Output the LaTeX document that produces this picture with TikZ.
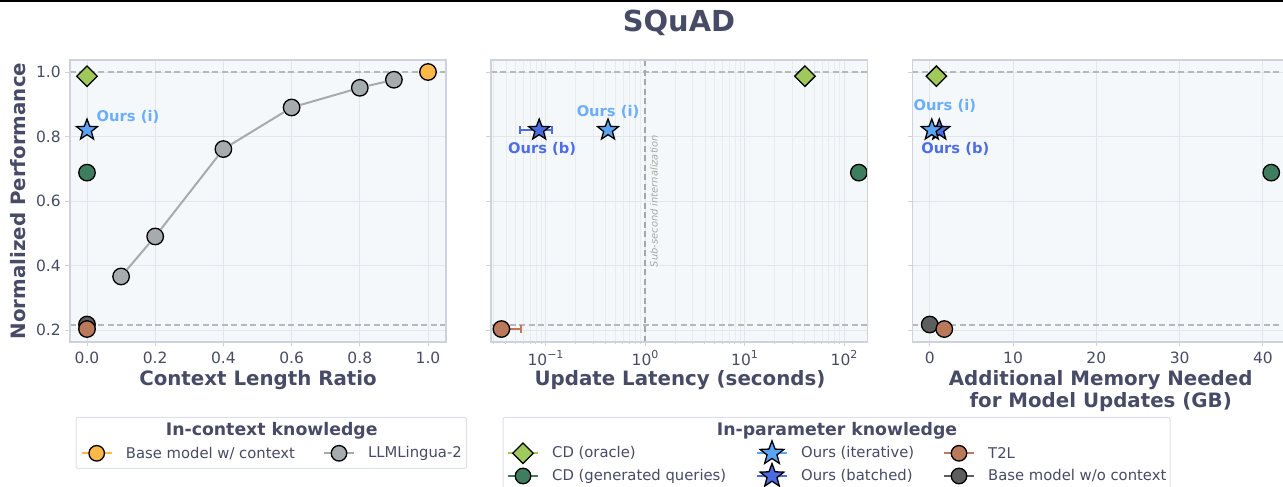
\documentclass[tikz,border=0pt]{standalone}
\usepackage{fontspec}
\setmainfont{DejaVu Sans}
\usetikzlibrary{shapes.geometric,arrows.meta}

\definecolor{txtcol}{HTML}{474B66}
\definecolor{panelbg}{HTML}{F5F8FA}
\definecolor{gridcol}{HTML}{E2E5EA}
\definecolor{framecol}{HTML}{CDD2DC}
\definecolor{legcol}{HTML}{DDE0E6}
\definecolor{refcol}{HTML}{B8B8B8}
\definecolor{subcol}{HTML}{A6A6A6}
\definecolor{oraclecol}{HTML}{9FCA5B}
\definecolor{gencol}{HTML}{3E7D5D}
\definecolor{itercol}{HTML}{5AA4F5}
\definecolor{batchcol}{HTML}{4B6BE0}
\definecolor{iterlbl}{HTML}{6AAEFC}
\definecolor{batchlbl}{HTML}{4D6EE6}
\definecolor{ttwolcol}{HTML}{B9795A}
\definecolor{basecol}{HTML}{5E5E5E}
\definecolor{ctxcol}{HTML}{FDB849}
\definecolor{linguacol}{HTML}{A6ABAE}

\newcommand{\tenpow}[1]{10\raisebox{0.8ex}{\fontsize{11}{11}\selectfont#1}}
% legend entry: name, handle centre x, y, marker style, colour, text
\newcommand{\legentry}[6]{%
  \coordinate (#1l) at (#2-15,#3);
  \coordinate (#1r) at (#2+15,#3);
  \draw[handle, #5] (#1l) -- (#1r);
  \node[#4, fill=#5] (#1) at (#2,#3) {};
  \node[legtext] (#1txt) at (#2+29,#3) {#6};
}

\begin{document}
\begin{tikzpicture}[x=1pt,y=-1pt,
    tick/.style={font=\fontsize{15.5}{18}\selectfont, text=txtcol, inner sep=0pt},
    axlabel/.style={font=\fontsize{19.8}{21.7}\selectfont\bfseries, text=txtcol, align=center},
    gridline/.style={gridcol, line width=0.9pt},
    minorgrid/.style={gridcol!75, line width=0.7pt},
    refline/.style={refcol, line width=1.4pt, dash pattern=on 6pt off 3.5pt},
    subline/.style={subcol, line width=1.4pt, dash pattern=on 6pt off 3.5pt},
    tickmark/.style={framecol, line width=0.9pt},
    frame/.style={framecol, line width=1.1pt},
    mk/.style={draw=black, line width=1.3pt, inner sep=0pt},
    mkcirc/.style={mk, circle, minimum size=16.5pt},
    mkstar/.style={mk, star, star points=5, star point ratio=2.4, minimum size=22pt},
    mkdiam/.style={mk, diamond, minimum size=21pt},
    ourslbl/.style={font=\fontsize{14.7}{17}\selectfont\bfseries},
    legtext/.style={font=\fontsize{14.8}{17}\selectfont, text=txtcol, anchor=west, inner sep=0pt},
    legtitle/.style={font=\fontsize{17.3}{20}\selectfont\bfseries, text=txtcol},
    legbox/.style={draw=legcol, line width=1pt, fill=white, rounded corners=2pt},
    handle/.style={line width=2.2pt},
    errbar/.style={line width=1.5pt}]

\useasboundingbox (0,0) rectangle (1283,487);
\clip (0,0) rectangle (1283,487);

% top rule and title
\fill[black] (0,0) rectangle (1283,2);
\node[font=\fontsize{28.9}{32}\selectfont\bfseries, text=txtcol] (title) at (679,23) {SQuAD};

% panel 1: context length ratio
\fill[panelbg] (70,60) rectangle (446,342);
\begin{scope}[shift={(87,394.5)}, x=341pt, y=322.5pt]
  \foreach \u in {0,0.2,0.4,0.6,0.8,1} \draw[gridline] (\u,0.163) -- (\u,1.037);
  \foreach \v in {0.2,0.4,0.6,0.8,1} \draw[gridline] (-0.05,\v) -- (1.053,\v);
  \draw[refline] (-0.05,1) -- (1.053,1);
  \draw[refline] (-0.05,0.215) -- (1.053,0.215);
  \foreach \u in {0.0,0.2,0.4,0.6,0.8,1.0} {
    \draw[tickmark] (\u,0.163) -- ++(0,-4.5pt);
    \node[tick] at ([yshift=-16pt]\u,0.163) {\u};
  }
  \foreach \v in {0.2,0.4,0.6,0.8,1.0} {
    \draw[tickmark] (-0.05,\v) -- ++(-4.5pt,0);
    \node[tick, anchor=east] at ([xshift=-9pt]-0.05,\v) {\v};
  }
  % LLMLingua-2 sweep
  \foreach \r/\p [count=\i] in {0.1/0.366,0.2/0.49,0.4/0.761,0.6/0.89,0.8/0.951,0.9/0.976}
    \node[mkcirc, fill=linguacol] (ling\i) at (\r,\p) {};
  \draw[linguacol, line width=2pt] (ling1) -- (ling2) -- (ling3) -- (ling4) -- (ling5) -- (ling6);
  \node[mkcirc, fill=ctxcol] (ctxA) at (1,1) {};
  \node[mkdiam, fill=oraclecol] (oracA) at (0,0.987) {};
  \node[mkstar, fill=itercol] (iterA) at (0,0.82) {};
  \node[mkcirc, fill=gencol] (genA) at (0,0.688) {};
  \node[mkcirc, fill=basecol] (baseA) at (0,0.217) {};
  \node[mkcirc, fill=ttwolcol] (ttwolA) at (0,0.203) {};
  \node[ourslbl, text=iterlbl] (iterAlbl) at ([xshift=41pt,yshift=13pt]iterA) {Ours (i)};
\end{scope}
\draw[frame] (70,60) rectangle (446,342);
\node[axlabel] (xlabA) at (258,380) {Context Length Ratio};
\node[axlabel, rotate=90] (ylab) at (18,201) {Normalized Performance};

% panel 2: update latency, log axis
\fill[panelbg] (491,60) rectangle (867.7,342);
\begin{scope}[shift={(645,394.5)}, x=99.5pt, y=322.5pt]
  \foreach \d in {-2,-1,0,1} \foreach \m in {2,...,9} {
    \pgfmathsetmacro\lx{\d+log10(\m)}
    \ifdim\lx pt>-1.548pt \ifdim\lx pt<2.238pt
      \draw[minorgrid] (\lx,0.163) -- (\lx,1.037);
      \draw[tickmark] (\lx,0.163) -- ++(0,-2.5pt);
    \fi\fi
  }
  \foreach \d/\e in {-1/−1,0/0,1/1,2/2} {
    \draw[gridline] (\d,0.163) -- (\d,1.037);
    \draw[tickmark] (\d,0.163) -- ++(0,-4.5pt);
    \node[tick] at ([yshift=-16pt]\d,0.163) {\tenpow{\e}};
  }
  \foreach \v in {0.2,0.4,0.6,0.8,1} {
    \draw[gridline] (-1.548,\v) -- (2.238,\v);
    \draw[tickmark] (-1.548,\v) -- ++(-4.5pt,0);
  }
  \draw[refline] (-1.548,1) -- (2.238,1);
  \draw[refline] (-1.548,0.215) -- (2.238,0.215);
  % sub-second marker
  \draw[subline] (0,0.163) -- (0,1.037);
  \node[rotate=90, font=\fontsize{9.9}{12}\selectfont\itshape, text=subcol] (subsec) at ([xshift=9pt]0,0.6) {Sub-second internalization};
  % error bars
  \coordinate (errbL) at ({log10(0.0546)},0.82);
  \coordinate (errbR) at ({log10(0.118)},0.82);
  \draw[errbar, batchcol, {Bar[width=8pt]}-{Bar[width=8pt]}] (errbL) -- (errbR);
  \coordinate (ttwolBc) at ({log10(0.0355)},0.203);
  \coordinate (errtR) at ({log10(0.058)},0.203);
  \draw[errbar, ttwolcol, -{Bar[width=8pt]}] (ttwolBc) -- (errtR);
  % data
  \node[mkdiam, fill=oraclecol] (oracB) at ({log10(40.5)},0.987) {};
  \node[mkcirc, fill=gencol] (genB) at ({log10(141)},0.688) {};
  \node[mkstar, fill=itercol] (iterB) at ({log10(0.425)},0.82) {};
  \node[mkstar, fill=batchcol] (batchB) at ({log10(0.086)},0.82) {};
  \node[mkcirc, fill=ttwolcol] (ttwolB) at (ttwolBc) {};
  \node[ourslbl, text=iterlbl] (iterBlbl) at ([yshift=18pt]iterB) {Ours (i)};
  \node[ourslbl, text=batchlbl] (batchBlbl) at ([xshift=3pt,yshift=-19pt]batchB) {Ours (b)};
\end{scope}
\draw[frame] (491,60) rectangle (867.7,342);
\node[axlabel] (xlabB) at (680,380) {Update Latency (seconds)};

% panel 3: additional memory
\fill[panelbg] (912.3,60) rectangle (1300,342);
\begin{scope}[shift={(929.7,394.5)}, x=8.33pt, y=322.5pt]
  \foreach \g in {0,10,20,30,40} {
    \draw[gridline] (\g,0.163) -- (\g,1.037);
    \draw[tickmark] (\g,0.163) -- ++(0,-4.5pt);
    \node[tick] at ([yshift=-16pt]\g,0.163) {\g};
  }
  \foreach \v in {0.2,0.4,0.6,0.8,1} {
    \draw[gridline] (-2.09,\v) -- (45,\v);
    \draw[tickmark] (-2.09,\v) -- ++(-4.5pt,0);
  }
  \draw[refline] (-2.09,1) -- (45,1);
  \draw[refline] (-2.09,0.215) -- (45,0.215);
  \node[mkdiam, fill=oraclecol] (oracC) at (0.8,0.987) {};
  \node[mkstar, fill=batchcol] (batchC) at (1.15,0.82) {};
  \node[mkstar, fill=itercol] (iterC) at (0.25,0.82) {};
  \node[mkcirc, fill=gencol] (genC) at (41,0.688) {};
  \node[mkcirc, fill=basecol] (baseC) at (0,0.217) {};
  \node[mkcirc, fill=ttwolcol] (ttwolC) at (1.75,0.203) {};
  \node[ourslbl, text=iterlbl] (iterClbl) at ([xshift=13pt,yshift=24pt]iterC) {Ours (i)};
  \node[ourslbl, text=batchlbl] (batchClbl) at ([xshift=16pt,yshift=-19pt]batchC) {Ours (b)};
\end{scope}
\draw[frame] (912.3,60) rectangle (1300,342);
\node[axlabel] (xlabC) at (1100.7,391) {Additional Memory Needed\\for Model Updates (GB)};

% legend: in-context knowledge
\draw[legbox] (76,417.3) rectangle (466.7,468.3);
\node[legtitle] (legAtitle) at (271.7,431) {In-context knowledge};
\legentry{legctx}{96.7}{453.3}{mkcirc, minimum size=15.5pt}{ctxcol}{Base model w/ context}
\legentry{legling}{339}{453.3}{mkcirc, minimum size=15.5pt}{linguacol}{LLMLingua-2}

% legend: in-parameter knowledge
\draw[legbox] (503,417.3) rectangle (1170,500);
\node[legtitle] (legBtitle) at (837,431) {In-parameter knowledge};
\legentry{legorac}{523}{453.3}{mkdiam}{oraclecol}{CD (oracle)}
\legentry{leggen}{523}{476}{mkcirc, minimum size=15.5pt}{gencol}{CD (generated queries)}
\legentry{legiter}{772}{453.3}{mkstar, minimum size=25pt}{itercol}{Ours (iterative)}
\legentry{legbatch}{772}{476}{mkstar, minimum size=25pt}{batchcol}{Ours (batched)}
\legentry{legttwol}{959}{453.3}{mkcirc, minimum size=15.5pt}{ttwolcol}{T2L}
\legentry{legbase}{959}{476}{mkcirc, minimum size=15.5pt}{basecol}{Base model w/o context}
\end{tikzpicture}
\end{document}
